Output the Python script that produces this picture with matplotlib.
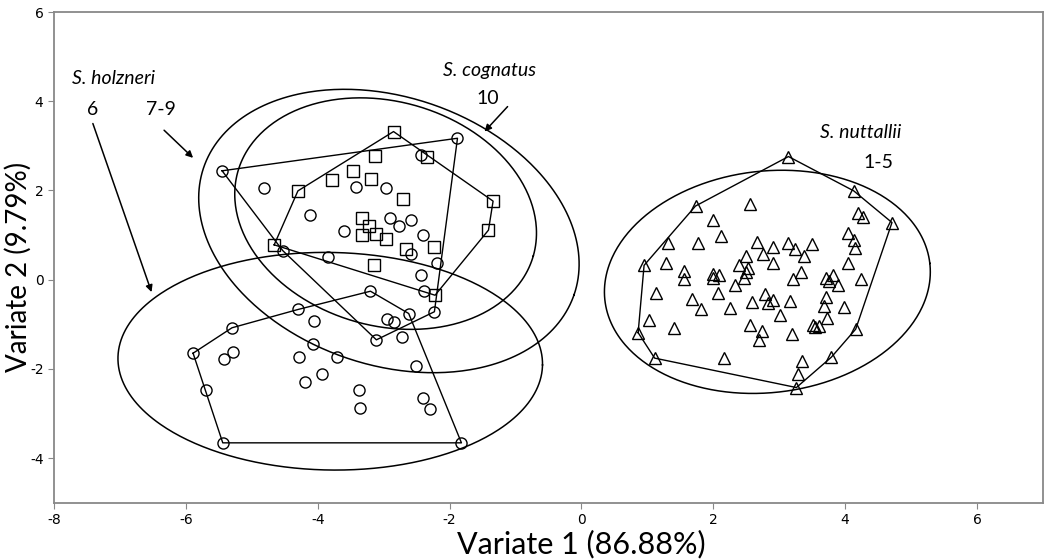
import numpy as np
import matplotlib.pyplot as plt

plt.rcParams['axes.unicode_minus'] = False

# S. nuttallii, populations 1-5 (triangles)
nut_x = [3.14, 4.13, 4.71, 4.19, 4.27, 1.73, 2.55, 1.99, 2.12, 1.32, 1.77, 2.66, 2.91, 3.13,
         3.24, 3.50, 2.75, 2.50, 3.37, 4.04, 4.14, 4.15, 0.95, 1.28, 1.56, 1.56, 1.99, 2.09,
         2.00, 2.39, 2.52, 2.49, 2.47, 2.33, 2.91, 4.05, 3.33, 3.21, 3.71, 3.82, 3.75, 3.89,
         4.24, 1.13, 2.07, 1.67, 1.82, 2.25, 2.58, 2.78, 2.83, 2.90, 3.17, 3.71, 3.68, 3.98,
         3.01, 3.72, 1.03, 1.40, 0.86, 2.56, 2.74, 2.69, 3.19, 3.51, 3.55, 3.60, 4.16, 1.11,
         2.16, 3.34, 3.79, 3.28, 3.26]
nut_y = [2.76, 1.99, 1.28, 1.49, 1.40, 1.65, 1.69, 1.34, 0.98, 0.81, 0.83, 0.84, 0.74, 0.81,
         0.68, 0.79, 0.57, 0.54, 0.53, 1.05, 0.89, 0.72, 0.32, 0.37, 0.19, 0.02, 0.12, 0.10,
         0.04, 0.33, 0.25, 0.16, 0.03, -0.11, 0.37, 0.37, 0.17, 0.01, 0.04, 0.10, -0.03, -0.11,
         0.01, -0.31, -0.29, -0.43, -0.66, -0.63, -0.51, -0.33, -0.52, -0.46, -0.47, -0.38, -0.59, -0.61,
         -0.79, -0.85, -0.91, -1.09, -1.19, -1.02, -1.15, -1.36, -1.21, -1.02, -1.06, -1.03, -1.11, -1.76,
         -1.76, -1.82, -1.74, -2.12, -2.42]

# S. holzneri, population 6 (circles, lower group)
h6_x = [-5.89, -5.30, -4.30, -3.20, -2.62, -1.82, -5.44, -5.70, -5.28, -5.42, -4.05, -4.07,
        -4.29, -3.70, -4.20, -3.94, -3.38, -3.36, -2.41, -2.29, -2.72, -2.51, -2.95, -2.84]
h6_y = [-1.65, -1.08, -0.67, -0.26, -0.76, -3.66, -3.66, -2.48, -1.63, -1.78, -0.93, -1.45,
        -1.73, -1.73, -2.29, -2.12, -2.48, -2.87, -2.65, -2.89, -1.28, -1.93, -0.89, -0.96]

# S. holzneri, populations 7-9 (circles, upper group)
h79_x = [-5.45, -1.88, -2.44, -4.81, -3.42, -2.97, -4.11, -3.60, -2.91, -2.77, -2.58, -2.41,
         -2.58, -4.53, -3.84, -2.19, -2.44, -2.39, -2.23, -3.11]
h79_y = [2.44, 3.17, 2.79, 2.06, 2.08, 2.06, 1.46, 1.09, 1.38, 1.20, 1.34, 1.00,
         0.57, 0.65, 0.51, 0.37, 0.10, -0.25, -0.72, -1.35]

# S. cognatus, population 10 (squares)
cog_x = [-2.85, -3.13, -2.34, -3.47, -3.79, -3.19, -4.30, -2.71, -1.34, -3.33, -3.22, -1.41,
         -3.33, -3.12, -2.97, -2.66, -2.23, -4.66, -3.15, -2.22]
cog_y = [3.32, 2.78, 2.74, 2.44, 2.23, 2.26, 1.99, 1.80, 1.76, 1.38, 1.20, 1.11,
         0.99, 1.02, 0.91, 0.68, 0.74, 0.78, 0.33, -0.35]

# group ellipses: centre, semi-axes (x units), tilt in degrees
ell_cx = [-3.81, -2.92, -2.97, 2.82]
ell_cy = [-1.83, 1.09, 1.48, -0.05]
ell_a = [3.22, 2.97, 2.33, 2.48]
ell_b = [1.65, 2.03, 1.70, 1.68]
ell_tilt = [-1, -19, -16, 6.5]

# annotation labels
labels = ['S. holzneri', '6', '7-9', 'S. cognatus', '10', 'S. nuttallii', '1-5']
label_x = [-7.1, -7.41, -6.38, -1.39, -1.42, 4.24, 4.5]
label_y = [4.5, 3.82, 3.82, 4.68, 4.07, 3.3, 2.62]
label_italic = [True, False, False, True, False, True, False]


def hull(x, y):
    pts = sorted(set(zip(x, y)))

    def cross(o, a, b):
        return (a[0] - o[0]) * (b[1] - o[1]) - (a[1] - o[1]) * (b[0] - o[0])

    lower, upper = [], []
    for p in pts:
        while len(lower) >= 2 and cross(lower[-2], lower[-1], p) <= 0:
            lower.pop()
        lower.append(p)
    for p in reversed(pts):
        while len(upper) >= 2 and cross(upper[-2], upper[-1], p) <= 0:
            upper.pop()
        upper.append(p)
    h = lower[:-1] + upper[:-1]
    h.append(h[0])
    return [p[0] for p in h], [p[1] for p in h]


fig = plt.figure(figsize=(10.46, 5.6), dpi=100)
ax = fig.add_axes([0.0516, 0.1025, 0.9455, 0.876])
ax.set_xlim(-8, 7)
ax.set_ylim(-5, 6)

# y unit relative to x unit on screen, so the ellipses keep their shape
bb = ax.get_window_extent()
k = (bb.height / 11) / (bb.width / 15)

t = np.linspace(0, 2 * np.pi, 400)
for cx, cy, a, b, tilt in zip(ell_cx, ell_cy, ell_a, ell_b, ell_tilt):
    ph = np.radians(tilt)
    u, v = a * np.cos(t), b * np.sin(t)
    ex = cx + u * np.cos(ph) - v * np.sin(ph)
    ey = cy + (u * np.sin(ph) + v * np.cos(ph)) / k
    ax.plot(ex, ey, color='black', lw=1.1)

groups = [(nut_x, nut_y, '^'), (h6_x, h6_y, 'o'), (h79_x, h79_y, 'o'), (cog_x, cog_y, 's')]
for gx, gy, m in groups:
    hx, hy = hull(gx, gy)
    ax.plot(hx, hy, color='black', lw=1.0)
    ax.plot(gx, gy, linestyle='none', marker=m, markersize=8, markerfacecolor='none',
            markeredgecolor='black', markeredgewidth=1.0)

tf = 'Lato'
for txt, lx, ly, it in zip(labels, label_x, label_y, label_italic):
    ax.text(lx, ly, txt, style='italic' if it else 'normal', fontsize=14, family=tf,
            ha='center', va='center')

arrow = dict(arrowstyle='-|>', color='black', lw=1.1, mutation_scale=10, shrinkA=0, shrinkB=0)
ax.annotate('', xy=(-6.52, -0.28), xytext=(-7.41, 3.5), arrowprops=arrow)
ax.annotate('', xy=(-5.89, 2.73), xytext=(-6.33, 3.35), arrowprops=arrow)
ax.annotate('', xy=(-1.47, 3.32), xytext=(-1.12, 3.88), arrowprops=arrow)

ax.set_xticks(np.arange(-8, 7, 2))
ax.set_yticks(np.arange(-4, 7, 2))
ax.set_xlabel('Variate 1 (86.88%)', fontsize=22, family=tf, va='center')
ax.set_ylabel('Variate 2 (9.79%)', fontsize=20, family=tf, va='center')
ax.xaxis.set_label_coords(0.533, -0.084)
ax.yaxis.set_label_coords(-0.036, 0.48)
for s in ax.spines.values():
    s.set_color('#888888')
    s.set_linewidth(1.3)
ax.tick_params(colors='#888888', labelcolor='black', labelsize=10, length=4)

plt.savefig('out.png', dpi=100)
